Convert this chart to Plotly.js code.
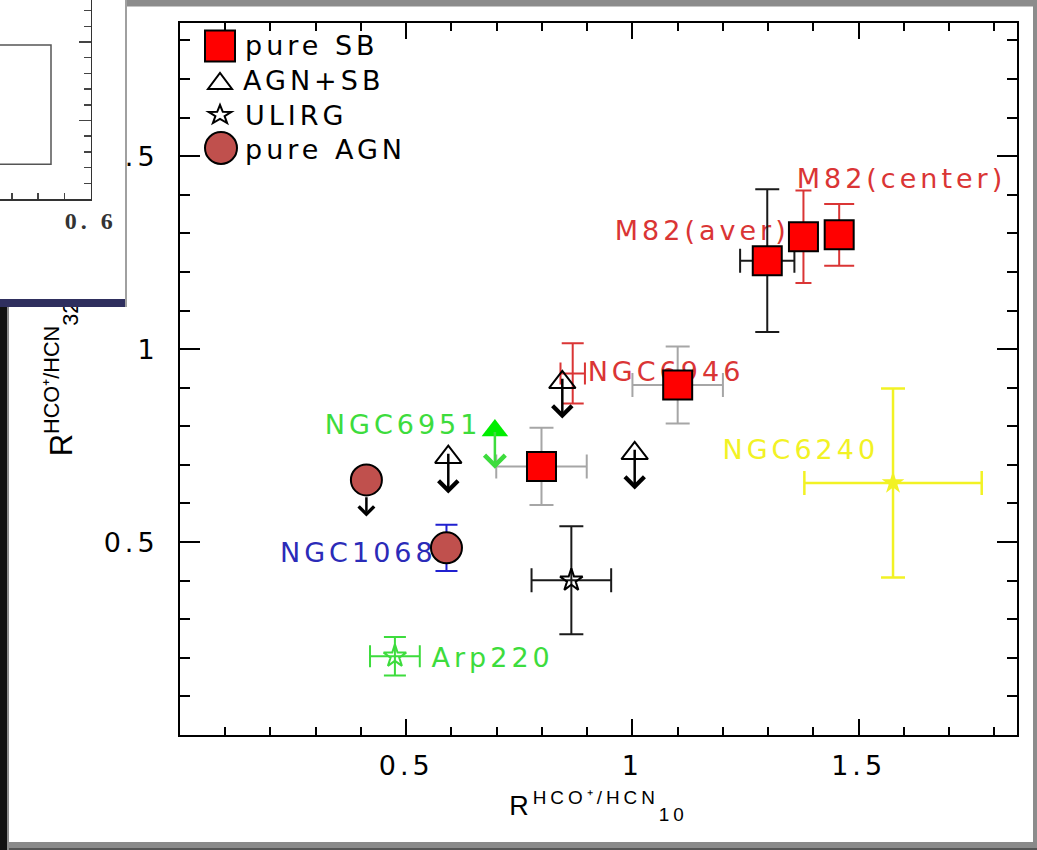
<!DOCTYPE html>
<html>
<head>
<meta charset="utf-8">
<script src="https://cdn.plot.ly/plotly-3.0.1.min.js"></script>
<style>
  html, body { margin: 0; padding: 0; background: #fff; }
  #chart { position: absolute; left: 0; top: 0; width: 1037px; height: 850px; }
  #inset { position: absolute; left: 0; top: 0; width: 127px; height: 307px; z-index: 5; }
  text { letter-spacing: 4px; }
  text.ytitle { letter-spacing: 0; }
</style>
</head>
<body>
<div id="chart"></div>
<div id="inset"></div>
<script>
// ---- data -------------------------------------------------------------
// pure starburst sources (red squares)
const sbX    = [1.457, 1.378, 1.298, 1.100, 0.799];
const sbY    = [1.296, 1.291, 1.229, 0.907, 0.696];
const sbErrX = [0, 0, 0.06, 0.10, 0.10];
const sbErrY = [0.08, 0.12, 0.185, 0.10, 0.10];

// second NGC6946 measurement (error bars only)
const n6946bX = [0.868];
const n6946bY = [0.937];
const n6946bErrX = [0.027];
const n6946bErrY = [0.078];

// AGN+SB upper limits (open triangles)
const mixX = [0.593, 0.845, 1.005];
const mixY = [0.720, 0.914, 0.730];

// NGC6951, AGN+SB upper limit
const n6951X = [0.696];
const n6951Y = [0.789];

// ULIRGs
const ulirgX = [0.865], ulirgY = [0.401], ulirgErrX = [0.088], ulirgErrY = [0.14];
const arpX = [0.475],   arpY = [0.204],   arpErrX = [0.055],   arpErrY = [0.05];
const n6240X = [1.576], n6240Y = [0.653], n6240ErrX = [0.196], n6240ErrY = [0.245];

// pure AGN (circles); the first one is an upper limit
const agnX = [0.412, 0.589];
const agnY = [0.661, 0.485];
const agnErrY = [0, 0.06];
const agnLimit = [true, false];

// axis ticks
const tickVals = [0.5, 1, 1.5];
const tickText = ['0.5', '1', '1.5'];

// ---- styles -----------------------------------------------------------
const RED = '#da3535', GREY = '#a6a6a6', BLUE = '#2b2bb8', GREEN = '#3ddc3d',
      GREEN_HI = '#00ee00', YELLOW = '#f2f224', SQUARE = '#ff0000', AGN = '#c0504d';
const sbBarColor = [RED, RED, '#1a1a1a', GREY, GREY];
const sbCap = [15, 8, 12, 12, 12];

const ML = 180, MR = 20, MT = 23, MB = 115, W = 1037, H = 850;
const PW = W - ML - MR, PH = H - MT - MB;
const paperX = v => (v - ML) / PW;
const paperY = v => (MT + PH - v) / PH;

const traces = [];

// labels first so that the markers sit on top of them
const labelDefs = [
  {text: 'M82(center)', x: 1.363, y: 1.436, color: RED},
  {text: 'M82(aver)',   x: 0.961, y: 1.301, color: RED},
  {text: 'NGC6946',     x: 0.901, y: 0.936, color: RED},
  {text: 'NGC6951',     x: 0.320, y: 0.797, color: GREEN},
  {text: 'NGC1068',     x: 0.221, y: 0.466, color: BLUE},
  {text: 'Arp220',      x: 0.556, y: 0.194, color: GREEN},
  {text: 'NGC6240',     x: 1.199, y: 0.733, color: YELLOW}
];
labelDefs.forEach(l => traces.push({
  type: 'scatter', mode: 'text', x: [l.x], y: [l.y], text: [l.text],
  textposition: 'middle right', cliponaxis: false,
  textfont: {family: 'DejaVu Sans', size: 27, color: l.color},
  hoverinfo: 'skip', showlegend: false
}));

// error bars, one trace per source
function errTrace(x, y, ex, ey, color, cap, thick) {
  const t = {type: 'scatter', mode: 'markers', x: x, y: y,
             marker: {size: 1, color: 'rgba(0,0,0,0)'}, hoverinfo: 'skip', showlegend: false};
  const st = {type: 'data', visible: true, color: color, thickness: thick || 2, width: cap};
  if (ey && ey[0]) t.error_y = Object.assign({array: ey}, st);
  if (ex && ex[0]) t.error_x = Object.assign({array: ex}, st);
  return t;
}
sbX.forEach((x, i) => traces.push(errTrace([x], [sbY[i]], [sbErrX[i]], [sbErrY[i]], sbBarColor[i], sbCap[i])));
traces.push(errTrace(n6946bX, n6946bY, n6946bErrX, n6946bErrY, RED, 11));
traces.push(errTrace([agnX[1]], [agnY[1]], null, [agnErrY[1]], '#2020d0', 11));
traces.push(errTrace(ulirgX, ulirgY, ulirgErrX, ulirgErrY, '#1a1a1a', 12));
traces.push(errTrace(arpX, arpY, arpErrX, arpErrY, GREEN, 11));
traces.push(errTrace(n6240X, n6240Y, n6240ErrX, n6240ErrY, YELLOW, 12, 2.5));

// markers
traces.push({type: 'scatter', mode: 'markers', name: 'pure SB', x: sbX, y: sbY,
  marker: {symbol: 'square', size: 29, color: SQUARE, line: {color: 'black', width: 2}}});
traces.push({type: 'scatter', mode: 'markers', name: 'AGN+SB', x: mixX, y: mixY,
  marker: {symbol: 'triangle-up-open', size: 23, color: 'black', line: {width: 2}}});
traces.push({type: 'scatter', mode: 'markers', name: 'NGC6951', x: n6951X, y: n6951Y,
  marker: {symbol: 'triangle-up', size: 23, color: GREEN_HI, line: {width: 0}}});
traces.push({type: 'scatter', mode: 'markers', name: 'ULIRG', x: ulirgX, y: ulirgY,
  marker: {symbol: 'star-open', size: 17, color: 'black', line: {width: 2}}});
traces.push({type: 'scatter', mode: 'markers', name: 'Arp220', x: arpX, y: arpY,
  marker: {symbol: 'star-open', size: 17, color: GREEN, line: {width: 2}}});
traces.push({type: 'scatter', mode: 'markers', name: 'NGC6240', x: n6240X, y: n6240Y,
  marker: {symbol: 'star', size: 17, color: YELLOW, line: {width: 0}}});
traces.push({type: 'scatter', mode: 'markers', name: 'pure AGN', x: agnX, y: agnY,
  marker: {symbol: 'circle', size: 31, color: AGN, line: {color: 'black', width: 2}}});

// ---- upper-limit arrows ----------------------------------------------
function limitArrow(x, yTail, yTip, color, size) {
  return {x: x, y: yTip, ax: x, ay: yTail, xref: 'x', yref: 'y', axref: 'x', ayref: 'y',
          text: '', showarrow: true, arrowhead: 4, arrowsize: size, arrowwidth: 2.5,
          arrowcolor: color, standoff: 0, startstandoff: 0};
}
const annotations = [];
mixX.forEach((x, i) => annotations.push(limitArrow(x, mixY[i] + 0.013, mixY[i] - 0.094, 'black', 1.5)));
n6951X.forEach((x, i) => annotations.push(limitArrow(x, n6951Y[i], n6951Y[i] - 0.099, GREEN, 1.6)));
agnX.forEach((x, i) => {
  if (agnLimit[i]) annotations.push(limitArrow(x, agnY[i] - 0.041, agnY[i] - 0.095, 'black', 1.2));
});

// ---- legend -----------------------------------------------------------
const legendFont = {family: 'DejaVu Sans', size: 27, color: 'black'};
[['pure SB', 243, 45.2], ['AGN+SB', 241, 80.2], ['ULIRG', 242.7, 115.2], ['pure AGN', 243, 149.5]]
  .forEach(([t, lx, ly]) => annotations.push({xref: 'paper', yref: 'paper', x: paperX(lx), y: paperY(ly),
    xanchor: 'left', yanchor: 'middle', text: t, showarrow: false, font: legendFont}));

const pix = (type, cx, cy, extra) => Object.assign({type: type, xref: 'paper', yref: 'paper',
  xsizemode: 'pixel', ysizemode: 'pixel', xanchor: paperX(cx), yanchor: paperY(cy)}, extra);

const shapes = [
  pix('rect', 220, 46, {x0: -15, x1: 15, y0: -15.5, y1: 15.5, fillcolor: SQUARE, line: {color: 'black', width: 2}}),
  pix('path', 220, 81, {path: 'M-12,-8L12,-8L0,8Z', line: {color: 'black', width: 2}}),
  pix('path', 220, 115, {path: 'M0,10L2.8,3.2L11.4,3.1L4.6,-1.2L7.1,-8.1L0,-4L-7.1,-8.1L-4.6,-1.2L-11.4,3.1L-2.8,3.2Z',
                         line: {color: 'black', width: 2}}),
  pix('circle', 221, 148, {x0: -16, x1: 16, y0: -16, y1: 16, fillcolor: AGN, line: {color: 'black', width: 2}}),
  // picture frame
  {type: 'rect', xref: 'paper', yref: 'paper', x0: paperX(127), x1: paperX(1037), y0: paperY(6.5), y1: paperY(0),
   fillcolor: '#8c8c8c', line: {width: 0}},
  {type: 'rect', xref: 'paper', yref: 'paper', x0: paperX(1033), x1: paperX(1037), y0: paperY(850), y1: paperY(0),
   fillcolor: '#8c8c8c', line: {width: 0}},
  {type: 'rect', xref: 'paper', yref: 'paper', x0: paperX(0), x1: paperX(1037), y0: paperY(850), y1: paperY(842),
   fillcolor: '#8a8a8a', line: {width: 0}},
  {type: 'rect', xref: 'paper', yref: 'paper', x0: paperX(0), x1: paperX(1037), y0: paperY(850), y1: paperY(848),
   fillcolor: '#555555', line: {width: 0}},
  {type: 'rect', xref: 'paper', yref: 'paper', x0: paperX(0), x1: paperX(7), y0: paperY(850), y1: paperY(0),
   fillcolor: '#111111', line: {width: 0}},
  {type: 'rect', xref: 'paper', yref: 'paper', x0: paperX(7), x1: paperX(9), y0: paperY(850), y1: paperY(0),
   fillcolor: '#8c8c8c', line: {width: 0}}
];

const axisCommon = {
  showline: true, linewidth: 2, linecolor: 'black', mirror: 'ticks',
  ticks: 'inside', tickwidth: 2, tickcolor: 'black',
  showgrid: false, zeroline: false, fixedrange: true,
  tickvals: tickVals, ticktext: tickText,
  tickfont: {family: 'DejaVu Sans', size: 27, color: 'black'}
};

const layout = {
  width: W, height: H,
  margin: {l: ML, r: MR, t: MT, b: MB},
  paper_bgcolor: 'white', plot_bgcolor: 'white',
  font: {family: 'DejaVu Sans', size: 27, color: 'black'},
  showlegend: false,
  xaxis: Object.assign({}, axisCommon, {
    range: [0, 1.85], ticklen: 16, ticklabelstandoff: 6,
    minor: {dtick: 0.1, tick0: 0, ticks: 'inside', ticklen: 8, tickwidth: 2, tickcolor: 'black', showgrid: false},
    title: {text: 'R<sup>HCO⁺/HCN</sup><sub>10</sub>', font: {family: 'Liberation Sans', size: 27, color: 'black'}, standoff: 16}
  }),
  yaxis: Object.assign({}, axisCommon, {
    range: [0, 1.845], ticklen: 20, ticklabelstandoff: 14,
    minor: {dtick: 0.1, tick0: 0, ticks: 'inside', ticklen: 10, tickwidth: 2, tickcolor: 'black', showgrid: false},
    title: {text: 'R<sup>HCO⁺/HCN</sup><sub>32</sub>', font: {family: 'Liberation Sans', size: 31, color: 'black'}, standoff: 22}
  }),
  annotations: annotations,
  shapes: shapes
};

Plotly.newPlot('chart', traces, layout, {displayModeBar: false, staticPlot: true});

// ---- corner panel of the neighbouring figure ------------------------------
const insetLayout = {
  width: 127, height: 307, margin: {l: 0, r: 0, t: 0, b: 0},
  paper_bgcolor: 'white', plot_bgcolor: 'white', showlegend: false,
  xaxis: {
    domain: [0, 90.7 / 127], range: [0.255, 0.6],
    tickvals: [0.3, 0.4, 0.5, 0.6], ticktext: ['', '', '', '0. 6'],
    ticks: 'inside', ticklen: 6, tickwidth: 1.5, tickcolor: '#444',
    showline: true, linewidth: 1.5, linecolor: '#333', showgrid: false, zeroline: false, fixedrange: true,
    ticklabelstandoff: 0,
    tickfont: {family: 'Liberation Serif', size: 24, color: '#333', weight: 'bold'}
  },
  yaxis: {
    domain: [108 / 307, 1], range: [0, 1.2675], side: 'right', anchor: 'x',
    tickvals: [0, 0.5, 1], showticklabels: false,
    ticks: 'inside', ticklen: 12, tickwidth: 1.5, tickcolor: '#444',
    minor: {dtick: 0.1, tick0: 0, ticks: 'inside', ticklen: 7, tickwidth: 1.5, tickcolor: '#444', showgrid: false},
    showline: true, linewidth: 1.5, linecolor: '#333', showgrid: false, zeroline: false, fixedrange: true
  },
  shapes: [
    {type: 'rect', xref: 'paper', yref: 'paper', x0: -0.02, x1: 51 / 127, y0: 1 - 164.3 / 307, y1: 1 - 45 / 307,
     line: {color: '#555', width: 1.5}},
    {type: 'rect', xref: 'paper', yref: 'paper', x0: 125 / 127, x1: 1, y0: 0, y1: 1,
     fillcolor: '#a0a0a0', line: {width: 0}},
    {type: 'rect', xref: 'paper', yref: 'paper', x0: 0, x1: 125 / 127, y0: 0, y1: 8 / 307,
     fillcolor: '#2f2f5e', line: {width: 0}}
  ]
};
Plotly.newPlot('inset', [{type: 'scatter', x: [], y: []}], insetLayout, {displayModeBar: false, staticPlot: true});
</script>
</body>
</html>
